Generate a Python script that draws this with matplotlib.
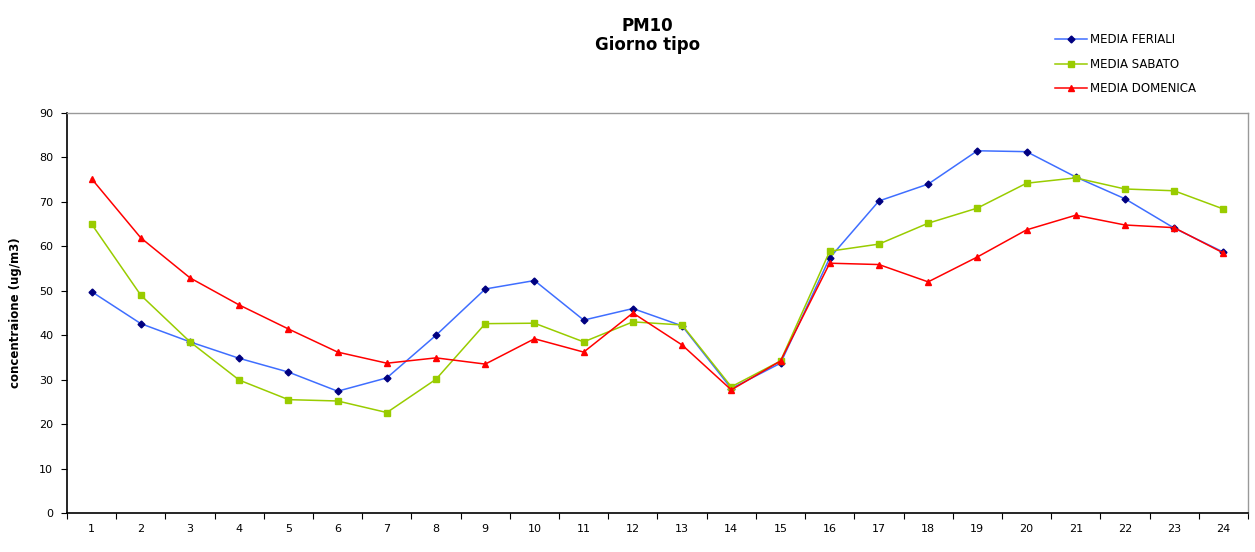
import numpy as np
import matplotlib.pyplot as plt
from matplotlib.ticker import FixedLocator, NullFormatter

hours = list(range(1, 25))

media_feriali = [49.8, 42.6, 38.5, 34.8, 31.7, 27.4, 30.4, 40.0, 50.4, 52.3,
                 43.4, 46.0, 42.1, 28.0, 33.7, 57.4, 70.2, 74.0, 81.5, 81.3,
                 75.6, 70.7, 64.1, 58.7]
media_sabato = [65.0, 49.0, 38.5, 29.9, 25.5, 25.2, 22.6, 30.1, 42.6, 42.7,
                38.5, 43.0, 42.3, 28.4, 34.2, 58.9, 60.5, 65.2, 68.6, 74.2,
                75.4, 72.9, 72.5, 68.4]
media_domenica = [75.2, 61.9, 52.9, 46.8, 41.4, 36.2, 33.7, 34.9, 33.5, 39.2,
                  36.2, 45.0, 37.8, 27.7, 34.2, 56.2, 55.9, 52.0, 57.6, 63.7,
                  67.0, 64.8, 64.2, 58.5]

fig = plt.figure(figsize=(12.55, 5.52), dpi=100)
ax = fig.add_axes([0.0534, 0.0707, 0.9410, 0.7246])

ax.plot(hours, media_feriali, color='#3F6EFF', lw=1.1, marker='D', ms=3.5,
        mfc='#000080', mec='#000080', label='MEDIA FERIALI')
ax.plot(hours, media_sabato, color='#99CC00', lw=1.1, marker='s', ms=4.5,
        mfc='#99CC00', mec='#99CC00', label='MEDIA SABATO')
ax.plot(hours, media_domenica, color='#FF0000', lw=1.1, marker='^', ms=5,
        mfc='#FF0000', mec='#FF0000', label='MEDIA DOMENICA')

ax.set_xlim(0.5, 24.5)
ax.set_ylim(0, 90)
ax.set_yticks(np.arange(0, 91, 10))
ax.tick_params(axis='y', direction='out', length=4, labelsize=8, pad=6)

# category axis: tick marks between categories, labels at centers
ax.xaxis.set_major_locator(FixedLocator(np.arange(0.5, 25, 1)))
ax.xaxis.set_major_formatter(NullFormatter())
ax.xaxis.set_minor_locator(FixedLocator(hours))
ax.set_xticklabels([str(h) for h in hours], minor=True)
ax.tick_params(axis='x', which='major', direction='out', length=4)
ax.tick_params(axis='x', which='minor', length=0, labelsize=8, pad=8)

for s in ['left', 'bottom']:
    ax.spines[s].set_color('black')
    ax.spines[s].set_linewidth(1.2)
for s in ['top', 'right']:
    ax.spines[s].set_color('#999999')
    ax.spines[s].set_linewidth(1.0)

ax.set_ylabel('concentraione (ug/m3)', fontsize=8.5, fontweight='bold', labelpad=12)

fig.text(0.516, 0.953, 'PM10', ha='center', va='center', fontsize=12, fontweight='bold')
fig.text(0.516, 0.919, 'Giorno tipo', ha='center', va='center', fontsize=12, fontweight='bold')

fig.legend(loc='upper left', bbox_to_anchor=(0.8405, 0.940), frameon=False,
           fontsize=8.5, handlelength=2.7, labelspacing=0.98, handletextpad=0.3,
           borderaxespad=0, borderpad=0)

fig.savefig('out.png', dpi=100)
